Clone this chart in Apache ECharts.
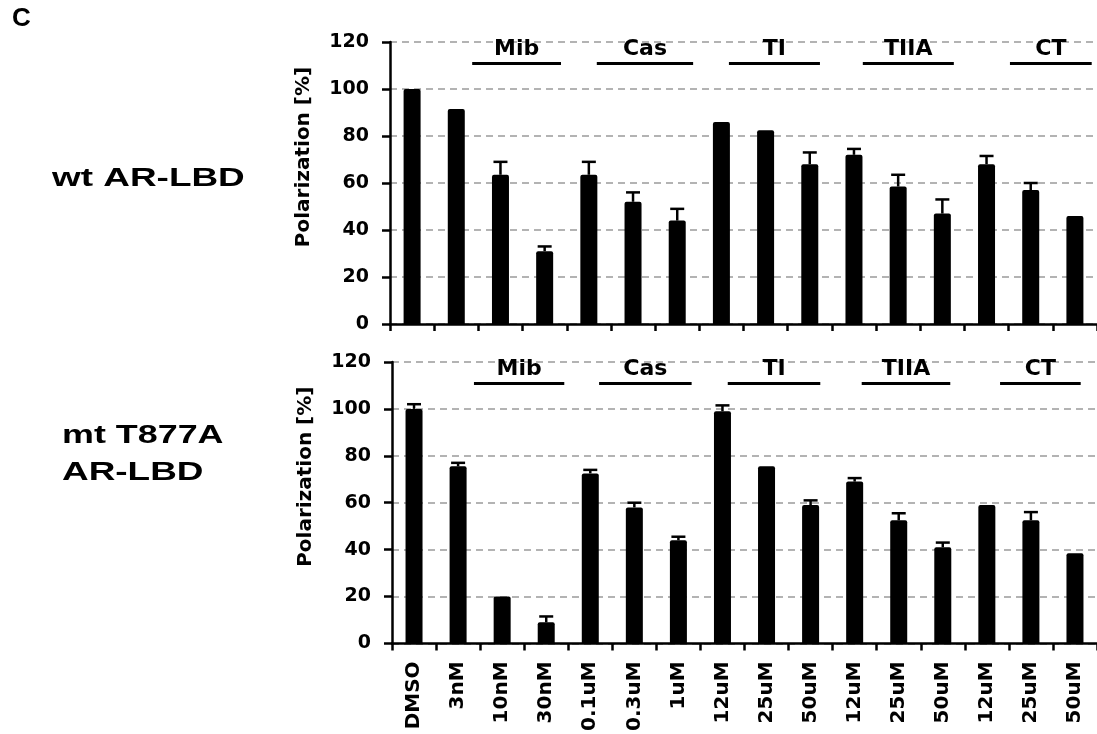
<!DOCTYPE html>
<html>
<head>
<meta charset="utf-8">
<script src="https://cdn.jsdelivr.net/npm/echarts@6/dist/echarts.min.js"></script>
<style>
  html, body { margin: 0; padding: 0; background: #fff; }
  #main { width: 1097px; height: 734px; }
</style>
</head>
<body>
<div id="main"></div>
<script>
// conditions on the x axis
const categories = ['DMSO', '3nM', '10nM', '30nM', '0.1uM', '0.3uM', '1uM',
  '12uM', '25uM', '50uM', '12uM', '25uM', '50uM', '12uM', '25uM', '50uM']

// wild type AR-LBD
const wtMean = [100, 91.5, 63.5, 31, 63.5, 52, 44, 86, 82.5, 68, 72, 58.5, 47, 68, 57, 46]
const wtErr = [0, 0, 5.5, 2, 5.5, 4, 5, 0, 0, 5, 2.5, 5, 6, 3.5, 3, 0]

// mutant T877A AR-LBD
const mtMean = [100, 75.5, 20, 9, 72.5, 58, 44, 99, 75.5, 59, 69, 52.5, 41, 59, 52.5, 38.5]
const mtErr = [2, 1.5, 0, 2.5, 1.5, 2, 1.5, 2.5, 0, 2, 1.5, 3, 2, 0, 3.5, 0]

// compound groups (span in category units, 0..16)
const groupNames = ['Mib', 'Cas', 'TI', 'TIIA', 'CT']
const groupSpanTop = [[1.86, 3.87], [4.68, 6.86], [7.67, 9.73], [10.7, 12.76], [14.03, 15.88]]
const groupSpanBottom = [[1.86, 3.91], [4.7, 6.8], [7.62, 9.72], [10.66, 12.67], [13.8, 15.63]]

const yTicks = [0, 20, 40, 60, 80, 100, 120]

const chart = echarts.init(document.getElementById('main'))

const font = 'DejaVu Sans'
const black = '#000'

const makeY = (gridIndex) => ({
  type: 'value',
  gridIndex,
  min: yTicks[0],
  max: yTicks[yTicks.length - 1],
  interval: 20,
  name: 'Polarization [%]',
  nameLocation: 'middle',
  nameGap: 76,
  nameTextStyle: {
    fontFamily: font, fontWeight: 'bold', fontSize: 20, color: black,
    padding: [0, 0, 0, 52]
  },
  axisLine: { show: true, lineStyle: { color: black, width: 2.5 } },
  axisTick: { show: true, length: 8, lineStyle: { color: black, width: 2.5 } },
  axisLabel: { fontFamily: font, fontWeight: 'bold', fontSize: 19, color: black, margin: 21 },
  splitLine: { show: true, lineStyle: { color: '#9a9a9a', type: [7, 5], width: 1.5 } }
})

const makeX = (gridIndex, showLabel) => ({
  type: 'category',
  gridIndex,
  data: categories,
  axisLine: { show: true, lineStyle: { color: black, width: 2.5 } },
  axisTick: { show: true, length: 7, lineStyle: { color: black, width: 2.5 } },
  axisLabel: {
    show: showLabel,
    interval: 0,
    rotate: 90,
    fontFamily: font,
    fontWeight: 'bold',
    fontSize: 20,
    color: black,
    margin: 18
  },
  splitLine: { show: false }
})

// hidden value axis for group brackets
const makeHiddenX = (gridIndex) => ({
  type: 'value', gridIndex, min: 0, max: 16, show: false, splitLine: { show: false }
})

const errorSeries = (mean, err, xi, yi) => ({
  type: 'custom',
  xAxisIndex: xi,
  yAxisIndex: yi,
  z: 3,
  data: mean.map((m, i) => [i, m, err[i]]),
  renderItem: (params, api) => {
    const e = api.value(2)
    if (!e) return null
    const base = api.coord([api.value(0), api.value(1)])
    const top = api.coord([api.value(0), api.value(1) + e])
    const style = { stroke: black, lineWidth: 2.5 }
    return {
      type: 'group',
      children: [
        { type: 'line', shape: { x1: base[0], y1: base[1], x2: top[0], y2: top[1] }, style },
        { type: 'line', shape: { x1: top[0] - 7, y1: top[1], x2: top[0] + 7, y2: top[1] }, style }
      ]
    }
  }
})

const bracketSeries = (spans, xi, yi) => ({
  type: 'lines',
  coordinateSystem: 'cartesian2d',
  xAxisIndex: xi,
  yAxisIndex: yi,
  silent: true,
  lineStyle: { color: black, width: 3, opacity: 1 },
  data: spans.map(s => ({ coords: [[s[0], 111], [s[1], 111]] }))
})

const groupLabelSeries = (spans, xi, yi) => ({
  type: 'scatter',
  xAxisIndex: xi,
  yAxisIndex: yi,
  symbolSize: 0,
  silent: true,
  itemStyle: { opacity: 1 },
  data: spans.map((s, i) => [(s[0] + s[1]) / 2, 117, groupNames[i]]),
  label: {
    show: true,
    position: 'inside',
    formatter: p => p.value[2],
    fontFamily: font,
    fontWeight: 'bold',
    fontSize: 22,
    color: black
  }
})

const barSeries = (mean, xi, yi) => ({
  type: 'bar',
  xAxisIndex: xi,
  yAxisIndex: yi,
  data: mean,
  barWidth: 17,
  itemStyle: { color: black, borderRadius: [2, 2, 0, 0] }
})

const sideFont = 'bold 26px "Liberation Sans"'

const option = {
  animation: false,
  backgroundColor: '#fff',
  grid: [
    { left: 390, top: 42, right: 0, height: 282 },
    { left: 392, top: 362, right: 0, height: 282 }
  ],
  xAxis: [makeX(0, false), makeX(1, true), makeHiddenX(0), makeHiddenX(1)],
  yAxis: [makeY(0), makeY(1)],
  graphic: [
    { type: 'text', x: 12, y: 6, style: { text: 'C', font: sideFont, fill: black } },
    { type: 'text', x: 52, y: 166, scaleX: 1.42, style: { text: 'wt AR-LBD', font: sideFont, fill: black } },
    { type: 'text', x: 62, y: 423, scaleX: 1.38, style: { text: 'mt T877A', font: sideFont, fill: black } },
    { type: 'text', x: 62, y: 460, scaleX: 1.42, style: { text: 'AR-LBD', font: sideFont, fill: black } }
  ],
  series: [
    barSeries(wtMean, 0, 0),
    errorSeries(wtMean, wtErr, 0, 0),
    barSeries(mtMean, 1, 1),
    errorSeries(mtMean, mtErr, 1, 1),
    bracketSeries(groupSpanTop, 2, 0),
    groupLabelSeries(groupSpanTop, 2, 0),
    bracketSeries(groupSpanBottom, 3, 1),
    groupLabelSeries(groupSpanBottom, 3, 1)
  ]
}

chart.setOption(option, true)
</script>
</body>
</html>
